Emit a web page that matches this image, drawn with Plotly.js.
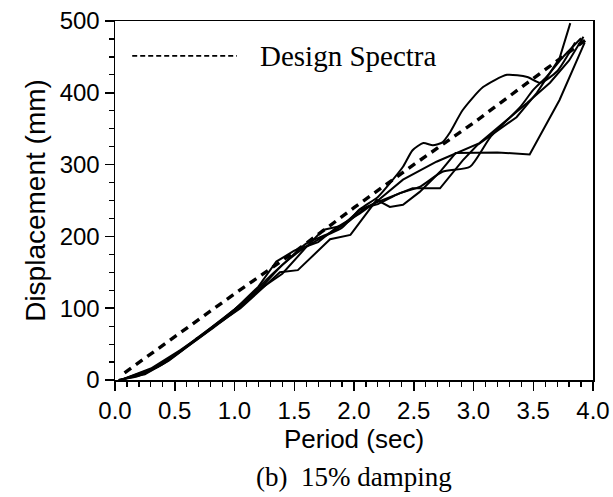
<!DOCTYPE html>
<html>
<head>
<meta charset="utf-8">
<script src="https://cdn.plot.ly/plotly-3.0.1.min.js"></script>
<style>html,body{margin:0;padding:0;background:#fff;}#chart{width:613px;height:497px;}</style>
</head>
<body>
<div id="chart"></div>
<script>
// Design spectra (dashed)
const designX = [0.08, 0.5, 1.0, 1.5, 2.0, 2.5, 3.0, 3.5, 3.95];
const designY = [10, 60, 120, 178, 240, 300, 358, 420, 475];

// Ground-motion spectra (solid), 15% damping
const gm1X = [0.03, 0.2, 0.4, 0.6, 0.8, 1.0, 1.2, 1.4, 1.55, 1.75, 1.9, 2.05, 2.2, 2.3, 2.41, 2.49, 2.58, 2.66, 2.74, 2.8, 2.91, 3.08, 3.28, 3.45, 3.56, 3.7, 3.85];
const gm1Y = [0, 6, 22, 46, 70, 95, 125, 160, 180, 200, 212, 238, 255, 274, 297, 320, 330, 327, 331, 344, 376, 408, 425, 422, 414, 430, 470];

const gm2X = [0.03, 0.25, 0.45, 0.65, 0.85, 1.05, 1.25, 1.38, 1.53, 1.65, 1.8, 1.97, 2.1, 2.19, 2.3, 2.41, 2.55, 2.72, 2.85, 3.2, 3.47, 3.72, 3.93];
const gm2Y = [0, 8, 27, 52, 77, 100, 130, 150, 153, 172, 196, 202, 230, 251, 241, 244, 262, 290, 316, 317, 314, 390, 470];

const gm3X = [0.05, 0.3, 0.5, 0.7, 0.9, 1.1, 1.3, 1.45, 1.6, 1.8, 1.95, 2.1, 2.2, 2.38, 2.55, 2.74, 2.97, 3.14, 3.39, 3.5, 3.61, 3.75, 3.9];
const gm3Y = [0, 14, 35, 60, 85, 112, 145, 168, 190, 205, 220, 240, 245, 260, 269, 290, 297, 338, 380, 404, 422, 450, 476];

const gm4X = [0.05, 0.3, 0.55, 0.75, 0.95, 1.2, 1.35, 1.5, 1.7, 1.85, 2.05, 2.2, 2.41, 2.69, 3.05, 3.45, 3.64, 3.8, 3.92];
const gm4Y = [0, 16, 42, 65, 90, 130, 165, 180, 192, 212, 232, 250, 279, 304, 330, 386, 414, 445, 478];

const gm5X = [0.05, 0.35, 0.55, 0.8, 1.0, 1.2, 1.4, 1.6, 1.74, 1.9, 2.05, 2.2, 2.49, 2.72, 2.8, 2.91, 3.03, 3.36, 3.53, 3.72, 3.81];
const gm5Y = [0, 18, 40, 72, 98, 125, 148, 185, 209, 215, 237, 248, 267, 267, 283, 306, 327, 366, 400, 448, 497];

const xTickVals = [0, 0.5, 1.0, 1.5, 2.0, 2.5, 3.0, 3.5, 4.0];
const xTickText = ['0.0', '0.5', '1.0', '1.5', '2.0', '2.5', '3.0', '3.5', '4.0'];
const yTickVals = [0, 100, 200, 300, 400, 500];
const yTickText = ['0', '100', '200', '300', '400', '500'];

const solid = {color: '#000', width: 2};
const gms = [[gm1X, gm1Y, 'spline'], [gm2X, gm2Y, 'linear'], [gm3X, gm3Y, 'spline'], [gm4X, gm4Y, 'linear'], [gm5X, gm5Y, 'linear']];
const traces = gms.map((g, i) => ({
  x: g[0], y: g[1], type: 'scatter', mode: 'lines', name: 'Record ' + (i + 1),
  line: Object.assign({shape: g[2], smoothing: 0.6}, solid), showlegend: false
}));
traces.push({
  x: designX, y: designY, type: 'scatter', mode: 'lines', name: 'Design Spectra',
  line: {color: '#000', width: 3.4, dash: '8px,6px'}, showlegend: false
});

const sans = 'Liberation Sans, Arial, sans-serif';
const serif = 'Liberation Serif, Times New Roman, serif';

const layout = {
  width: 613, height: 497,
  margin: {l: 115, r: 20, t: 21, b: 117},
  paper_bgcolor: '#fff', plot_bgcolor: '#fff',
  xaxis: {
    range: [0, 4], tickvals: xTickVals, ticktext: xTickText,
    showline: true, mirror: true, linecolor: '#000', linewidth: 1.5,
    ticks: 'outside', ticklen: 9, tickwidth: 1.5, tickcolor: '#000',
    minor: {dtick: 0.1, tick0: 0, ticks: 'outside', ticklen: 5, tickwidth: 1.2, tickcolor: '#000', showgrid: false},
    showgrid: false, zeroline: false,
    tickfont: {family: sans, size: 24, color: '#000'},
    title: {text: 'Period (sec)', font: {family: sans, size: 26, color: '#000'}, standoff: 2}
  },
  yaxis: {
    range: [0, 500], tickvals: yTickVals, ticktext: yTickText,
    showline: true, mirror: true, linecolor: '#000', linewidth: 1.5,
    ticks: 'outside', ticklen: 9, tickwidth: 1.5, tickcolor: '#000',
    minor: {dtick: 25, tick0: 0, ticks: 'outside', ticklen: 5, tickwidth: 1.2, tickcolor: '#000', showgrid: false},
    showgrid: false, zeroline: false,
    tickfont: {family: sans, size: 24, color: '#000'},
    title: {text: 'Displacement (mm)', font: {family: sans, size: 28, color: '#000'}, standoff: 6}
  },
  shapes: [{
    type: 'line', xref: 'paper', yref: 'paper',
    x0: 0.036, x1: 0.255, y0: 0.903, y1: 0.903,
    line: {color: '#000', width: 1.8, dash: '5px,3px'}
  }],
  annotations: [
    {text: 'Design Spectra', xref: 'paper', yref: 'paper', x: 0.3, y: 0.903,
     xanchor: 'left', yanchor: 'middle', showarrow: false,
     font: {family: serif, size: 29, color: '#000'}},
    {text: '(b)  15% damping', xref: 'paper', yref: 'paper', x: 0.5, y: -0.27,
     xanchor: 'center', yanchor: 'middle', showarrow: false,
     font: {family: serif, size: 27, color: '#000'}}
  ]
};

Plotly.newPlot('chart', traces, layout, {displayModeBar: false, staticPlot: true});
</script>
</body>
</html>
